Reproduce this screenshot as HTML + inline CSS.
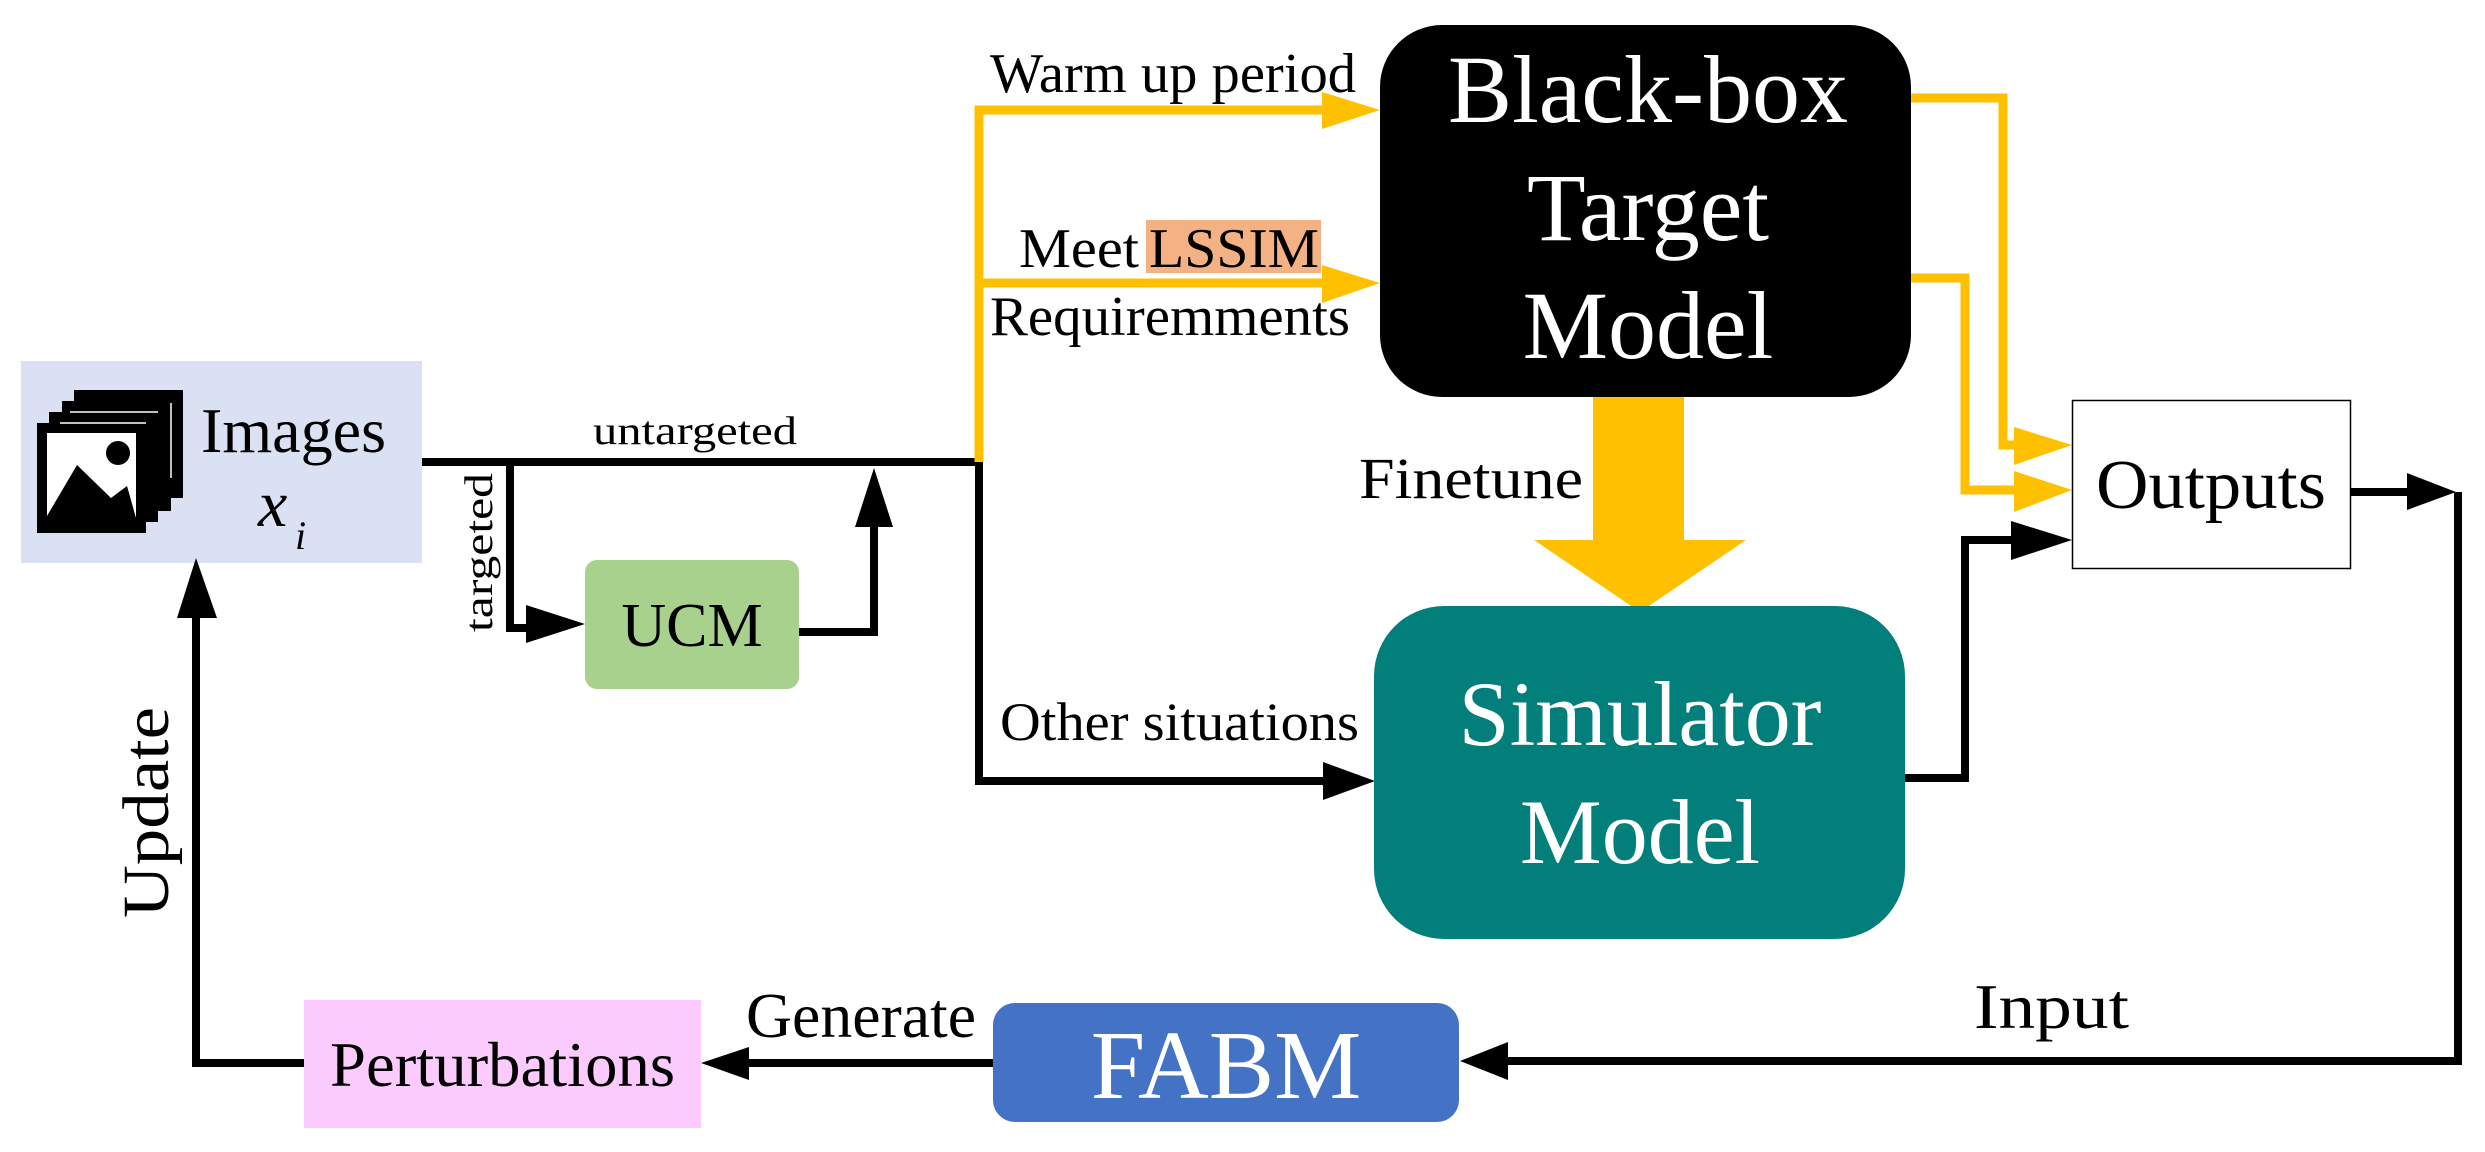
<!DOCTYPE html>
<html><head><meta charset="utf-8"><style>html,body{margin:0;padding:0;background:#fff}svg{display:block}svg text{font-family:"Liberation Serif","Times New Roman",serif}</style></head>
<body>
<svg width="2485" height="1152" viewBox="0 0 2485 1152" xmlns="http://www.w3.org/2000/svg" font-family="'Liberation Serif', serif">
<rect width="2485" height="1152" fill="#fff"/>
<!-- Images box -->
<rect x="21" y="361" width="401" height="202" fill="#dae1f3"/>
<rect x="74" y="390" width="109" height="108" fill="#000"/>
<rect x="62" y="401" width="109" height="110" fill="#000"/>
<rect x="49" y="412" width="109" height="110" fill="#000"/>
<rect x="37" y="423" width="109" height="110" fill="#000"/>
<line x1="70" y1="412" x2="158" y2="412" stroke="#fff" stroke-width="1.5"/>
<line x1="60" y1="423" x2="146" y2="423" stroke="#fff" stroke-width="1.5"/>
<line x1="171" y1="403" x2="171" y2="478" stroke="#fff" stroke-width="1.5"/>
<rect x="47" y="433" width="89" height="85" fill="#fff"/>
<circle cx="118" cy="453" r="12" fill="#000"/>
<polygon points="47,518 47,516 77,465 111,498 127,486 136,518" fill="#000"/>
<text x="201" y="452" font-size="64" textLength="185" lengthAdjust="spacingAndGlyphs">Images</text>
<text x="258" y="526" font-size="66" font-style="italic">x</text>
<text x="295" y="549" font-size="40" font-style="italic">i</text>

<!-- untargeted line -->
<line x1="422" y1="462" x2="983" y2="462" stroke="#000" stroke-width="8"/>
<text x="593" y="444" font-size="40" textLength="204" lengthAdjust="spacingAndGlyphs">untargeted</text>
<polyline points="510,462 510,628 545,628" fill="none" stroke="#000" stroke-width="8"/>
<polygon points="526,605 585,624 526,643" fill="#000"/>
<text transform="translate(492,632) rotate(-90)" font-size="40" textLength="159" lengthAdjust="spacingAndGlyphs">targeted</text>
<rect x="585" y="560" width="214" height="129" rx="12" fill="#a9d18e"/>
<text x="692" y="646" font-size="62" text-anchor="middle">UCM</text>
<polyline points="799,632 874,632 874,520" fill="none" stroke="#000" stroke-width="8"/>
<polygon points="855,527 874,468 893,527" fill="#000"/>

<!-- main vertical -->
<polyline points="979,462 979,781 1330,781" fill="none" stroke="#000" stroke-width="8"/>
<polygon points="1323,762 1375,781 1323,800" fill="#000"/>
<text x="1000" y="740" font-size="54" textLength="359" lengthAdjust="spacingAndGlyphs">Other situations</text>

<!-- yellow branches -->
<polyline points="979,462 979,110 1330,110" fill="none" stroke="#ffc000" stroke-width="9"/>
<polygon points="1322,92 1380,110 1322,129" fill="#ffc000"/>
<line x1="979" y1="283" x2="1330" y2="283" stroke="#ffc000" stroke-width="9"/>
<polygon points="1322,265 1380,283 1322,303" fill="#ffc000"/>
<text x="990" y="92" font-size="56" textLength="366" lengthAdjust="spacingAndGlyphs">Warm up period</text>
<rect x="1146" y="220" width="175" height="53" fill="#f4b183"/>
<text x="1019" y="267" font-size="56" textLength="120" lengthAdjust="spacingAndGlyphs">Meet</text>
<text x="1149" y="267" font-size="56" textLength="170" lengthAdjust="spacingAndGlyphs">LSSIM</text>
<text x="990" y="335" font-size="56" textLength="360" lengthAdjust="spacingAndGlyphs">Requiremments</text>

<!-- black box -->
<rect x="1380" y="25" width="531" height="372" rx="62" fill="#000"/>
<g fill="#fff" font-size="96" text-anchor="middle">
<text x="1648" y="122">Black-box</text>
<text x="1648" y="240">Target</text>
<text x="1648" y="358">Model</text>
</g>

<!-- finetune arrow -->
<rect x="1593" y="397" width="91" height="145" fill="#ffc000"/>
<polygon points="1534,540 1746,540 1640,612" fill="#ffc000"/>
<text x="1359" y="498" font-size="58" textLength="224" lengthAdjust="spacingAndGlyphs">Finetune</text>

<!-- simulator -->
<rect x="1374" y="606" width="531" height="333" rx="70" fill="#027f7b"/>
<g fill="#fff" font-size="92" text-anchor="middle">
<text x="1640" y="745">Simulator</text>
<text x="1640" y="863">Model</text>
</g>

<!-- right yellow to outputs -->
<polyline points="1911,98 2003,98 2003,445 2020,445" fill="none" stroke="#ffc000" stroke-width="9"/>
<polygon points="2014,427 2072,445 2014,465" fill="#ffc000"/>
<polyline points="1911,278 1965,278 1965,490 2020,490" fill="none" stroke="#ffc000" stroke-width="9"/>
<polygon points="2014,471 2072,490 2014,512" fill="#ffc000"/>
<polyline points="1905,778 1965,778 1965,540 2020,540" fill="none" stroke="#000" stroke-width="8"/>
<polygon points="2011,521 2072,540 2011,560" fill="#000"/>

<!-- outputs -->
<rect x="2072.5" y="400.5" width="278" height="168" fill="#fff" stroke="#000" stroke-width="1.5"/>
<text x="2211" y="508" font-size="70" text-anchor="middle" textLength="230" lengthAdjust="spacingAndGlyphs">Outputs</text>
<line x1="2351" y1="492" x2="2410" y2="492" stroke="#000" stroke-width="8"/>
<polygon points="2407,473 2456,492 2407,510" fill="#000"/>
<polyline points="2458,492 2458,1061 1505,1061" fill="none" stroke="#000" stroke-width="8"/>
<polygon points="1508,1042 1460,1061 1508,1080" fill="#000"/>
<text x="1974" y="1028" font-size="64" textLength="155" lengthAdjust="spacingAndGlyphs">Input</text>

<!-- FABM -->
<rect x="993" y="1003" width="466" height="119" rx="22" fill="#4472c4"/>
<text x="1226" y="1098" font-size="98" fill="#fff" text-anchor="middle">FABM</text>
<line x1="993" y1="1063" x2="745" y2="1063" stroke="#000" stroke-width="8"/>
<polygon points="749,1047 701,1063 749,1080" fill="#000"/>
<text x="746" y="1037" font-size="64" textLength="230" lengthAdjust="spacingAndGlyphs">Generate</text>

<!-- perturbations -->
<rect x="304" y="1000" width="397" height="128" fill="#fccbfd"/>
<text x="330" y="1086" font-size="64" textLength="345" lengthAdjust="spacingAndGlyphs">Perturbations</text>
<polyline points="304,1063 196,1063 196,610" fill="none" stroke="#000" stroke-width="8"/>
<polygon points="177,618 196,558 217,618" fill="#000"/>
<text transform="translate(168,918) rotate(-90)" font-size="66" textLength="211" lengthAdjust="spacingAndGlyphs">Update</text>
</svg>
</body></html>
